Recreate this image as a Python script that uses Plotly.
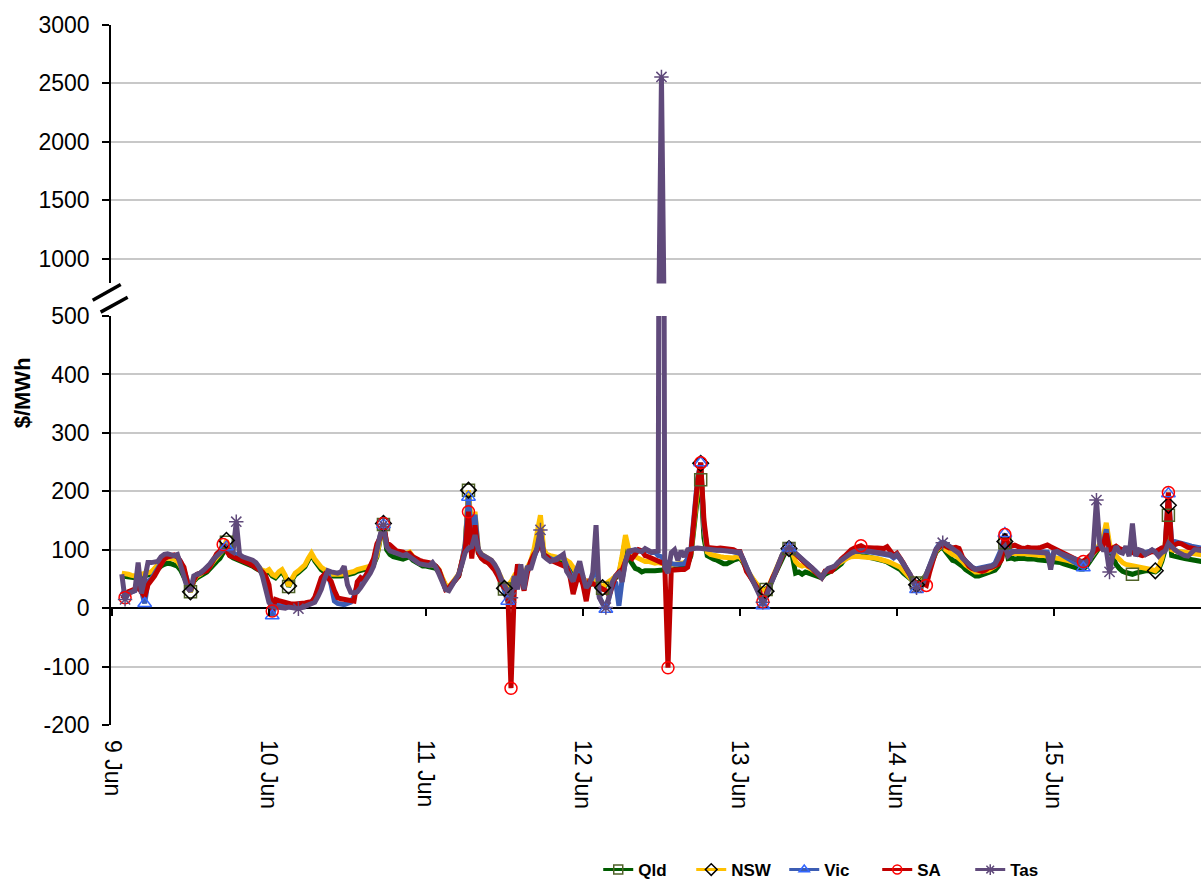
import pandas as pd
import plotly.graph_objects as go

# Half-hourly regional prices ($/MWh), 9 Jun 01:30 to 15 Jun 23:30.
# First block of each list is the 45 intervals of 9 Jun, then 48 per day.
qld = [
    55, 54, 53, 52, 52, 53, 54, 55, 56, 58, 62, 68, 72, 75, 77, 76, 75, 72, 65, 55, 42, 28, 46, 52, 55, 58, 62, 68, 75, 80, 85, 95, 113, 90, 86, 84, 82, 80, 78, 76, 72, 68, 64, 62, 60,
    62, 55, 52, 58, 62, 53, 37, 48, 57, 61, 67, 71, 82, 92, 81, 72, 66, 62, 58, 55, 55, 54, 55, 56, 57, 58, 60, 63, 65, 66, 67, 69, 75, 88, 118, 143, 100, 92, 88, 86, 85, 84, 86, 88, 82, 78, 74, 72,
    72, 71, 70, 68, 62, 50, 38, 35, 42, 48, 55, 78, 105, 202, 120, 140, 95, 86, 82, 80, 76, 70, 62, 50, 33, 38, 42, 52, 48, 62, 55, 66, 76, 92, 110, 125, 92, 86, 84, 82, 82, 80, 80, 78, 74, 66, 56, 50,
    45, 42, 40, 42, 45, 40, 34, 40, 43, 48, 52, 58, 85, 118, 85, 75, 68, 66, 62, 64, 65, 64, 64, 65, 66, 66, 66, 65, 66, 67, 68, 70, 75, 90, 140, 190, 220, 120, 90, 86, 84, 82, 78, 76, 76, 80, 82, 84,
    86, 78, 66, 56, 48, 40, 34, 33, 32, 38, 50, 63, 78, 90, 97, 102, 90, 60, 62, 58, 62, 60, 58, 56, 54, 52, 58, 62, 64, 67, 72, 76, 84, 88, 90, 91, 91, 90, 89, 88, 87, 85, 84, 83, 81, 79, 76, 73,
    70, 66, 60, 55, 50, 46, 43, 45, 50, 58, 70, 85, 96, 102, 104, 96, 88, 82, 80, 77, 72, 66, 62, 58, 55, 55, 57, 58, 60, 62, 65, 72, 85, 112, 85, 86, 84, 85, 86, 85, 84, 85, 84, 83, 83, 82, 81, 80,
    80, 79, 78, 76, 74, 72, 70, 68, 67, 67, 72, 80, 88, 95, 105, 115, 140, 100, 85, 75, 68, 63, 61, 60, 58, 60, 62, 63, 64, 64, 63, 62, 66, 80, 100, 159, 90, 88, 87, 86, 85, 84, 83, 82, 81, 80, 79, 78,
]
nsw = [
    60, 60, 58, 56, 55, 57, 58, 58, 60, 62, 68, 75, 80, 84, 86, 85, 84, 80, 72, 60, 45, 28, 48, 55, 58, 62, 66, 72, 80, 86, 92, 100, 116, 95, 90, 88, 86, 84, 82, 80, 76, 72, 68, 65, 63,
    66, 58, 55, 62, 66, 56, 38, 50, 60, 64, 70, 74, 85, 94, 84, 76, 70, 66, 62, 58, 58, 57, 58, 59, 60, 61, 63, 66, 68, 69, 70, 72, 78, 90, 120, 145, 108, 100, 97, 95, 93, 91, 94, 96, 88, 82, 78, 76,
    76, 75, 74, 72, 66, 52, 40, 36, 44, 50, 58, 80, 110, 202, 130, 165, 100, 92, 88, 86, 82, 74, 65, 52, 34, 40, 45, 55, 50, 66, 58, 70, 80, 100, 130, 159, 100, 92, 90, 88, 87, 86, 85, 82, 78, 70, 60, 55,
    50, 45, 42, 45, 48, 42, 35, 42, 45, 50, 55, 60, 90, 125, 100, 90, 88, 85, 82, 80, 80, 78, 77, 78, 76, 75, 74, 74, 75, 75, 76, 78, 82, 95, 150, 210, 248, 140, 96, 92, 90, 88, 88, 87, 86, 85, 86, 88,
    88, 80, 68, 58, 50, 42, 35, 32, 29, 40, 52, 65, 80, 92, 98, 102, 95, 80, 74, 72, 74, 70, 66, 62, 58, 54, 62, 66, 67, 70, 76, 80, 84, 86, 88, 89, 89, 88, 88, 87, 86, 86, 85, 84, 82, 80, 78, 76,
    74, 70, 64, 58, 52, 46, 40, 43, 48, 58, 72, 88, 98, 104, 106, 100, 95, 92, 90, 86, 80, 74, 70, 66, 62, 62, 64, 64, 65, 68, 72, 80, 92, 114, 92, 94, 93, 92, 93, 93, 92, 91, 92, 91, 90, 90, 89, 88,
    88, 87, 86, 84, 82, 80, 78, 76, 75, 74, 78, 85, 92, 100, 110, 120, 146, 110, 95, 89, 84, 78, 75, 74, 73, 72, 72, 71, 70, 68, 66, 64, 70, 85, 110, 176, 100, 98, 97, 96, 95, 94, 94, 93, 92, 91, 90, 90,
]
vic = [
    30, 25, 26, 28, 30, 40, 30, 8, 45, 50, 60, 70, 80, 86, 88, 90, 90, 88, 80, 65, 45, 32, 50, 57, 60, 63, 68, 75, 84, 90, 95, 100, 105, 98, 94, 90, 88, 87, 85, 84, 80, 76, 70, 60, 45,
    20, -13, 5, 4, 3, 2, 3, 2, 2, 2, 3, 4, 6, 10, 18, 30, 45, 57, 60, 40, 12, 8, 7, 6, 8, 10, 20, 40, 50, 52, 58, 70, 82, 105, 125, 143, 110, 102, 98, 96, 94, 92, 93, 90, 86, 82, 80, 77,
    78, 76, 75, 72, 64, 48, 33, 34, 42, 50, 56, 80, 110, 190, 120, 160, 100, 90, 86, 83, 80, 72, 62, 48, 30, 12, 30, 50, 40, 65, 42, 68, 75, 88, 100, 130, 92, 88, 84, 82, 85, 88, 86, 72, 60, 50, 62, 70,
    50, 35, 40, 55, 90, 20, 8, -2, 18, 40, 45, 4, 50, 80, 95, 98, 100, 99, 97, 100, 98, 95, 96, 90, 88, 80, 78, 76, 75, 75, 75, 76, 85, 100, 160, 220, 249, 140, 102, 100, 100, 99, 100, 99, 99, 98, 97, 95,
    94, 84, 68, 57, 46, 35, 26, 4, 22, 38, 50, 63, 80, 92, 98, 103, 99, 93, 88, 83, 78, 74, 69, 62, 57, 53, 62, 67, 69, 72, 78, 83, 88, 92, 95, 97, 98, 98, 98, 97, 96, 95, 94, 95, 94, 93, 90, 86,
    90, 84, 76, 67, 57, 44, 32, 38, 44, 58, 73, 90, 102, 110, 113, 110, 106, 103, 100, 94, 86, 80, 75, 70, 67, 68, 70, 69, 70, 73, 77, 88, 102, 128, 95, 97, 98, 97, 98, 98, 98, 97, 98, 97, 97, 98, 96, 80,
    97, 96, 93, 90, 87, 84, 80, 77, 73, 69, 78, 86, 96, 102, 104, 108, 135, 95, 100, 104, 100, 98, 100, 96, 100, 95, 98, 96, 95, 97, 99, 97, 100, 103, 105, 196, 112, 114, 113, 112, 110, 108, 106, 105, 104, 103, 102, 101,
]
sa = [
    22, 18, 28, 30, 33, 35, 28, 20, 40, 46, 55, 65, 75, 84, 88, 90, 91, 88, 80, 70, 45, 30, 48, 58, 60, 62, 64, 72, 85, 93, 98, 109, 98, 90, 88, 86, 84, 82, 80, 76, 73, 70, 66, 62, 55,
    40, -5, 15, 13, 11, 10, 8, 7, 7, 7, 8, 9, 10, 11, 18, 35, 52, 58, 52, 46, 30, 18, 16, 15, 15, 13, 12, 45, 52, 48, 60, 75, 85, 110, 120, 145, 112, 108, 102, 98, 97, 96, 92, 94, 88, 84, 82, 80,
    80, 78, 76, 72, 65, 48, 32, 35, 42, 48, 55, 80, 100, 165, 85, 142, 95, 85, 80, 78, 72, 65, 55, 42, 35, 30, -137, 30, 75, 55, 30, 60, 80, 92, 100, 125, 92, 88, 82, 80, 78, 76, 72, 70, 55, 24, 45, 58,
    40, 12, 45, 42, 40, 35, 32, 30, 22, 40, 55, 62, 66, 80, 89, 85, 94, 100, 98, 90, 88, 85, 82, 80, 78, 77, -102, 65, 66, 66, 66, 66, 70, 94, 150, 215, 249, 150, 104, 103, 103, 102, 103, 102, 103, 100, 100, 97,
    97, 82, 63, 55, 46, 38, 29, 11, 25, 41, 52, 63, 78, 90, 97, 103, 98, 92, 86, 80, 77, 72, 69, 62, 56, 52, 63, 64, 63, 70, 78, 84, 89, 95, 100, 103, 104, 107, 104, 103, 103, 103, 103, 103, 102, 105, 98, 90,
    94, 86, 77, 66, 55, 48, 43, 41, 42, 39, 62, 85, 100, 105, 108, 106, 103, 103, 104, 102, 88, 80, 72, 68, 66, 64, 63, 65, 69, 70, 72, 75, 83, 126, 110, 106, 108, 105, 103, 102, 104, 103, 102, 103, 104, 106, 108, 105,
    102, 100, 97, 94, 92, 89, 86, 83, 81, 80, 85, 89, 95, 100, 104, 106, 128, 100, 103, 106, 102, 100, 98, 96, 95, 92, 92, 90, 92, 95, 97, 96, 100, 103, 104, 198, 106, 108, 111, 110, 106, 104, 103, 101, 100, 100, 100, 99,
]
tas = [
    58, 15, 25, 27, 30, 78, 25, 50, 78, 78, 80, 80, 88, 92, 93, 92, 90, 92, 75, 55, 35, 29, 55, 58, 60, 65, 70, 76, 84, 90, 96, 100, 103, 100, 96, 148, 92, 88, 86, 85, 82, 78, 70, 55, 33,
    10, 3, 2, 1, 0, 0, 2, 1, 0, -1, 1, 3, 5, 7, 10, 20, 32, 50, 64, 62, 60, 60, 62, 72, 40, 27, 26, 28, 35, 43, 50, 60, 72, 100, 125, 143, 105, 98, 96, 94, 92, 90, 92, 88, 82, 78, 76, 75,
    75, 73, 78, 70, 58, 42, 32, 30, 40, 48, 58, 75, 95, 103, 105, 125, 100, 92, 88, 86, 82, 75, 65, 50, 40, 30, 18, 55, 32, 75, 32, 72, 66, 85, 105, 134, 89, 84, 80, 82, 83, 88, 92, 63, 55, 46, 65, 80,
    55, 35, 42, 60, 142, 18, 8, 1, 20, 45, 55, 60, 45, 80, 98, 100, 100, 98, 97, 102, 100, 96, 97, 98, 2555, 70, 60, 95, 100, 82, 98, 88, 100, 100, 102, 103, 102, 101, 100, 100, 99, 99, 99, 98, 98, 97, 96, 96,
    96, 85, 70, 58, 46, 35, 25, 10, 20, 35, 50, 63, 80, 92, 98, 103, 99, 94, 90, 85, 80, 76, 70, 64, 58, 52, 62, 68, 70, 72, 78, 82, 88, 90, 94, 97, 98, 98, 99, 98, 97, 96, 95, 96, 95, 94, 92, 88,
    92, 85, 77, 68, 58, 45, 35, 40, 43, 58, 72, 88, 100, 108, 112, 110, 106, 103, 100, 94, 86, 80, 75, 70, 66, 67, 69, 68, 69, 72, 75, 85, 100, 106, 90, 95, 97, 96, 97, 97, 97, 96, 97, 96, 96, 95, 93, 66,
    96, 97, 94, 92, 90, 89, 86, 83, 80, 77, 80, 83, 100, 185, 110, 100, 100, 62, 90, 106, 96, 94, 106, 89, 145, 89, 100, 98, 92, 95, 100, 96, 89, 95, 98, 111, 104, 100, 96, 92, 90, 89, 95, 100, 100, 98, 97, 96,
]

region_names = ["Qld", "NSW", "Vic", "SA", "Tas"]
region_values = [qld, nsw, vic, sa, tas]
line_colors = ["#005C00", "#FFC000", "#3C5DB4", "#C00000", "#604A7B"]
marker_colors = ["#4F6228", "#000000", "#3366FF", "#FF0000", "#604A7B"]
marker_symbols = ["square-open", "diamond-open", "triangle-up-open", "circle-open", "asterisk-open"]

tick_days = ["2013-06-09", "2013-06-10", "2013-06-11", "2013-06-12", "2013-06-13", "2013-06-14", "2013-06-15"]
tick_labels = ["9 Jun", "10 Jun", "11 Jun", "12 Jun", "13 Jun", "14 Jun", "15 Jun"]

lower_ticks = [-200, -100, 0, 100, 200, 300, 400, 500]
lower_tick_labels = ["-200", "-100", "0", "100", "200", "300", "400", "500"]
upper_ticks = [1000, 1500, 2000, 2500, 3000]
upper_tick_labels = ["1000", "1500", "2000", "2500", "3000"]

times = pd.date_range("2013-06-09 01:30", periods=len(qld), freq="30min")

# Axis layout: lower panel -200..500, upper panel (after the break) up to 3000
LOW_DOM = [0.0, 0.5842]
UP_DOM = [0.6308, 1.0]
LOW_RANGE = [-200, 500]
UP_RANGE = [788, 3000]
zero_pos = LOW_DOM[0] + (0 - LOW_RANGE[0]) / (LOW_RANGE[1] - LOW_RANGE[0]) * (LOW_DOM[1] - LOW_DOM[0])

SANS = "Liberation Sans, Arial, sans-serif"
AXIS_FONT = dict(family=SANS, size=23, color="black")
LEGEND_FONT = dict(family=SANS, size=17, color="black", weight="bold")


def daily_extremes(values):
    """Times and values of each day's minimum and maximum interval."""
    s = pd.Series(values, index=times)
    grouped = s.groupby(s.index.date)
    idx = list(grouped.idxmin()) + list(grouped.idxmax())
    return idx, [s.loc[t] for t in idx]


fig = go.Figure()

# price lines, drawn into both panels
for name, vals, col in zip(region_names, region_values, line_colors):
    for yax in ("y", "y2"):
        fig.add_trace(go.Scatter(
            x=times, y=vals, mode="lines", name=name, yaxis=yax,
            line=dict(color=col, width=5), showlegend=False, hoverinfo="skip",
        ))

# daily max / min markers
for name, vals, mcol, sym in zip(region_names, region_values, marker_colors, marker_symbols):
    mx, my = daily_extremes(vals)
    for yax in ("y", "y2"):
        fig.add_trace(go.Scatter(
            x=mx, y=my, mode="markers", name=name, yaxis=yax,
            marker=dict(symbol=sym, size=12, color=mcol, line=dict(color=mcol, width=1.5)),
            showlegend=False,
        ))

# legend entries (line with marker)
for name, lcol, mcol, sym in zip(region_names, line_colors, marker_colors, marker_symbols):
    fig.add_trace(go.Scatter(
        x=[None], y=[None], mode="lines+markers", name=name,
        line=dict(color=lcol, width=3),
        marker=dict(symbol=sym, size=9, color=mcol, line=dict(color=mcol, width=1.5)),
    ))

# axis-break marks on the value axis
break_marks = [
    dict(x0=-0.0168, y0=0.6068, x1=0.0089, y1=0.6294),
    dict(x0=-0.0095, y0=0.5898, x1=0.0153, y1=0.6110),
]
shapes = [dict(type="line", xref="paper", yref="paper", line=dict(color="black", width=3.5), **b)
          for b in break_marks]

fig.update_layout(
    width=1201, height=888,
    margin=dict(l=111, r=0, t=25, b=156),
    paper_bgcolor="white", plot_bgcolor="white",
    showlegend=True,
    legend=dict(orientation="h", x=0.447, xanchor="left", y=-0.208, yanchor="middle",
                font=LEGEND_FONT, entrywidth=48, entrywidthmode="pixels",
                bgcolor="rgba(0,0,0,0)"),
    xaxis=dict(
        type="date", range=["2013-06-08 23:51", "2013-06-15 22:29"],
        tickvals=tick_days, ticktext=tick_labels, tickangle=90,
        tickfont=AXIS_FONT, showgrid=False, showline=False, ticks="", zeroline=False,
        anchor="y", ticklabelstandoff=14,
    ),
    xaxis2=dict(
        type="date", matches="x", overlaying="x", anchor="free", position=zero_pos,
        tickvals=tick_days, showticklabels=False, ticks="outside", ticklen=7,
        tickcolor="black", tickwidth=1.5, showgrid=False, showline=False, zeroline=False,
    ),
    yaxis=dict(
        domain=LOW_DOM, range=LOW_RANGE, tickvals=lower_ticks, ticktext=lower_tick_labels,
        tickfont=AXIS_FONT, ticks="outside", ticklen=7, tickcolor="black", tickwidth=1.5,
        showline=True, linecolor="black", linewidth=1.5,
        showgrid=True, gridcolor="#C8C8C8", gridwidth=1.5,
        zeroline=True, zerolinecolor="black", zerolinewidth=1.5,
        ticklabelstandoff=8,
    ),
    yaxis2=dict(
        domain=UP_DOM, range=UP_RANGE, tickvals=upper_ticks, ticktext=upper_tick_labels,
        anchor="x",
        tickfont=AXIS_FONT, ticks="outside", ticklen=7, tickcolor="black", tickwidth=1.5,
        showline=True, linecolor="black", linewidth=1.5,
        showgrid=True, gridcolor="#C8C8C8", gridwidth=1.5, zeroline=False,
        ticklabelstandoff=8,
    ),
    shapes=shapes,
    annotations=[dict(
        text="<b>$/MWh</b>", xref="paper", yref="paper", x=-0.0817, y=0.4752,
        textangle=-90, showarrow=False, xanchor="center", yanchor="middle",
        font=dict(family=SANS, size=22, color="black"),
    )],
)

# invisible trace so the zero-line tick axis is rendered
fig.add_trace(go.Scatter(x=[times[0]], y=[0], xaxis="x2", yaxis="y", mode="markers",
                         marker=dict(opacity=0), showlegend=False, hoverinfo="skip"))

fig.write_html("out.html")
